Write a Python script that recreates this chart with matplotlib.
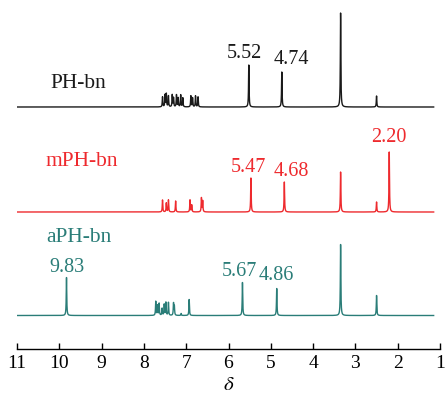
import numpy as np
import matplotlib
matplotlib.use("Agg")
import matplotlib.pyplot as plt

plt.rcParams['font.family'] = ['Liberation Serif', 'DejaVu Serif']
plt.rcParams['mathtext.fontset'] = 'stix'

# Peak lists (chemical shift in ppm, relative intensity)
ph_shift = [7.56, 7.50, 7.47, 7.42, 7.33, 7.30, 7.23, 7.19, 7.13, 7.08,
            6.89, 6.85, 6.78, 6.72, 5.52, 4.74, 3.35, 2.50]
ph_height = [10, 12, 13, 11, 12, 9, 12, 9, 12, 9,
             11, 9, 11, 10, 42, 35, 94, 11]

mph_shift = [7.56, 7.47, 7.42, 7.25, 6.91, 6.87, 6.64, 6.61,
             5.47, 4.68, 3.35, 2.50, 2.20]
mph_height = [12, 9, 12, 11, 12, 7, 14, 11,
              34, 30, 40, 10, 60]

aph_shift = [9.83, 7.72, 7.68, 7.64, 7.57, 7.52, 7.48, 7.42, 7.30, 7.28,
             7.12, 6.93, 5.67, 4.86, 3.35, 2.50]
aph_height = [38, 14, 10, 12, 7, 11, 13, 13, 12, 9,
              2, 16, 33, 27, 71, 20]

names = ["PH-bn", "mPH-bn", "aPH-bn"]
colors = ["#1a1a1a", "#ee2a2e", "#2a7d78"]
offsets = [242, 137, 33.5]

# labelled shifts and where their numbers sit (ppm, height)
labels = [
    [("5.52", 5.63, 296), ("4.74", 4.52, 290)],
    [("5.47", 5.53, 182), ("4.68", 4.52, 177)],
    [("9.83", 9.83, 82), ("5.67", 5.74, 77), ("4.86", 4.88, 73)],
]
extra_labels = [None, ("2.20", 2.20, 211), None]
name_pos = [(9.55, 266), (9.47, 188), (9.53, 112)]

x = np.linspace(11.0, 1.15, 20000)
hw = 0.007


def spectrum(shifts, heights):
    y = np.zeros_like(x)
    for s, h in zip(shifts, heights):
        y += h * hw**2 / ((x - s)**2 + hw**2)
    return y


fig = plt.figure(figsize=(4.46, 3.97), dpi=100)
ax = fig.add_axes([17 / 446, 48 / 397, 423 / 446, 349 / 397])

series = [(ph_shift, ph_height), (mph_shift, mph_height), (aph_shift, aph_height)]
for (sh, ht), name, c, off, labs, extra, npos in zip(series, names, colors, offsets,
                                                      labels, extra_labels, name_pos):
    ax.plot(x, off + spectrum(sh, ht), color=c, lw=1.0)
    ax.text(npos[0], npos[1], name, color=c, fontsize=15.5, ha='center', va='center')
    for t, px, py in labs:
        ax.text(px, py, t, color=c, fontsize=14.5, ha='center', va='center')
    if extra:
        ax.text(extra[1], extra[2], extra[0], color=c, fontsize=14.5, ha='center', va='center')

ax.set_xlim(11, 1)
ax.set_ylim(0, 349)
ax.set_xticks(range(11, 0, -1))
ax.tick_params(axis='x', direction='in', length=4, width=1.0, labelsize=14, pad=4)
ax.set_yticks([])
for side in ['left', 'right', 'top']:
    ax.spines[side].set_visible(False)
ax.spines['bottom'].set_linewidth(1.0)
ax.set_xlabel(r'$\delta$', fontsize=15, labelpad=3)

fig.savefig("out.png", dpi=100)
